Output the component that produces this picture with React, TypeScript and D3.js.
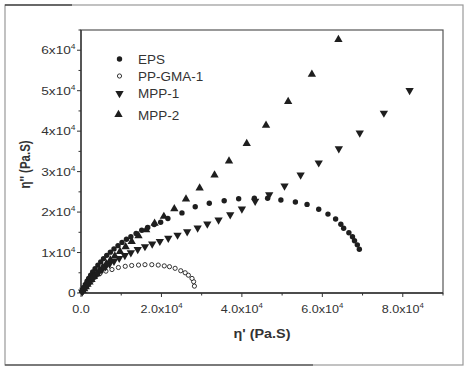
import React from "react";
import * as d3 from "d3";

// (Pa.S)
const epsX = [69200, 68700, 68000, 67500, 66600, 65300, 64600, 63300, 61400, 59100, 56200, 53300, 49700, 46400, 43100, 39200, 35600, 31900, 28400, 25100, 21600, 19800, 18200, 16600, 15100, 13700, 12400, 11300, 10200, 9200, 8200, 7300, 6400, 5600, 4900, 4200, 3500, 2900, 2400, 1900, 1500, 1100, 700, 400];
const epsY = [10800, 11900, 12900, 13900, 14900, 16000, 17000, 18300, 19500, 20700, 21900, 22500, 23000, 23400, 23400, 23300, 22800, 22200, 21300, 19800, 18400, 17500, 16900, 16200, 15500, 14700, 13900, 13300, 12500, 11700, 10900, 10100, 9300, 8500, 7700, 6900, 6000, 5200, 4400, 3600, 2900, 2100, 1400, 700];

const ppgmaX = [28200, 28000, 27600, 26700, 25900, 24800, 23400, 22000, 20700, 19200, 17600, 15900, 14300, 12600, 11000, 9300, 7700, 6200, 4700, 3500, 2400, 1600, 800, 300];
const ppgmaY = [1700, 2800, 3600, 4400, 5000, 5500, 6100, 6500, 6700, 6900, 7000, 7000, 6900, 6800, 6600, 6300, 5800, 5400, 4800, 4000, 3200, 2400, 1400, 600];

const mpp1X = [81700, 75300, 69300, 64100, 59100, 54600, 50600, 46800, 43300, 40000, 37100, 34200, 31400, 29000, 26400, 24000, 21700, 19600, 17700, 15900, 14100, 12400, 10900, 9500, 8200, 7100, 6100, 5200, 4400, 3700, 3000, 2400, 1900, 1400, 1000, 600, 300];
const mpp1Y = [50200, 44600, 39700, 35800, 32300, 29300, 26600, 24400, 22800, 20900, 19500, 18200, 17200, 16200, 15300, 14450, 13650, 12900, 12250, 11600, 10900, 10100, 9400, 8700, 8000, 7300, 6600, 5900, 5200, 4500, 3800, 3100, 2500, 1900, 1300, 800, 400];

const mpp2X = [64000, 57400, 51500, 46000, 41200, 36800, 33200, 29500, 26100, 23200, 20600, 18300, 16200, 14300, 12600, 11100, 9700, 8400, 7300, 6300, 5400, 4600, 3900, 3200, 2600, 2100, 1600, 1200, 800, 400];
const mpp2Y = [62500, 53900, 47200, 41300, 36800, 32500, 29000, 25800, 23100, 20700, 18800, 17100, 15500, 14000, 12600, 11300, 10100, 9000, 8000, 7100, 6200, 5400, 4600, 3900, 3200, 2600, 2000, 1400, 900, 450];

const legendNames = ["EPS", "PP-GMA-1", "MPP-1", "MPP-2"];
const xTicks = [0, 20000, 40000, 60000, 80000];
const xTickLabels = ["0.0", "2.0x10", "4.0x10", "6.0x10", "8.0x10"];
const yTicks = [0, 10000, 20000, 30000, 40000, 50000, 60000];
const yTickLabels = ["0", "1x10", "2x10", "3x10", "4x10", "5x10", "6x10"];

const W = 467;
const H = 369;
const m = { left: 81, right: 443, top: 30, bottom: 293 };
const font = "'Liberation Sans', Arial, sans-serif";
const ink = "#1e1e1e";
const txt = "#333";

const x = d3.scaleLinear().domain([0, 90000]).range([m.left, m.right]);
const y = d3.scaleLinear().domain([0, 65000]).range([m.bottom, m.top]);

const zip = (xs: number[], ys: number[]) => xs.map((v, i) => [v, ys[i]]);

const tri = d3.symbol().type(d3.symbolTriangle).size(30);

function Marker({ kind, cx, cy }: { kind: number; cx: number; cy: number }) {
  if (kind === 0) return <circle cx={cx} cy={cy} r={2.7} fill={ink} />;
  if (kind === 1)
    return <circle cx={cx} cy={cy} r={2.1} fill="white" stroke={ink} strokeWidth={0.9} />;
  if (kind === 2)
    return <path d={tri()!} transform={`translate(${cx},${cy + 0.5}) rotate(180)`} fill={ink} />;
  return <path d={tri()!} transform={`translate(${cx},${cy - 0.5})`} fill={ink} />;
}

// the picture is slightly stretched sideways, so is its text
function Label({ tx, ty, sx, anchor, size, bold, children }: any) {
  return (
    <text
      transform={`translate(${tx},${ty}) scale(${sx},1)`}
      textAnchor={anchor}
      fontSize={size}
      fontWeight={bold ? "bold" : "normal"}
      fill={txt}
    >
      {children}
    </text>
  );
}

export default function App() {
  const series = [zip(epsX, epsY), zip(ppgmaX, ppgmaY), zip(mpp1X, mpp1Y), zip(mpp2X, mpp2Y)];
  const legendY = [59, 76, 93, 115];
  const minorX = d3.range(10000, 90001, 20000);
  const minorY = d3.range(5000, 65001, 10000);

  return (
    <svg width={W} height={H} style={{ position: "absolute", left: 0, top: 0, background: "white" }} fontFamily={font}>
      {/* outer frame */}
      <rect x={5} y={5} width={458} height={360} fill="none" stroke="#999" strokeWidth={1.2} />
      <line x1={5} x2={72} y1={5} y2={5} stroke="#111" strokeWidth={1.2} />
      <line x1={5} x2={313} y1={365} y2={365} stroke="#333" strokeWidth={1.2} />

      {/* plot box */}
      <rect x={m.left} y={m.top} width={m.right - m.left} height={m.bottom - m.top} fill="none" stroke="#555" strokeWidth={1.2} />
      <line x1={m.left} x2={m.left} y1={m.top} y2={m.bottom} stroke="#333" strokeWidth={1.3} />
      <line x1={m.left} x2={m.right} y1={m.bottom} y2={m.bottom} stroke="#333" strokeWidth={1.3} />

      {/* x ticks */}
      {xTicks.map((t, i) => (
        <g key={"xt" + i}>
          <line x1={x(t)} x2={x(t)} y1={m.bottom} y2={m.bottom + 4} stroke="#333" />
          <Label tx={x(t)} ty={313} sx={1.2} anchor="middle" size={10.5}>
            {xTickLabels[i]}
            {i > 0 && <tspan dy={-5} fontSize={6.5}>4</tspan>}
          </Label>
        </g>
      ))}
      {minorX.map((t) => (
        <line key={"xm" + t} x1={x(t)} x2={x(t)} y1={m.bottom} y2={m.bottom + 2.5} stroke="#333" />
      ))}

      {/* y ticks */}
      {yTicks.map((t, i) => (
        <g key={"yt" + i}>
          <line x1={m.left - 4} x2={m.left} y1={y(t)} y2={y(t)} stroke="#333" />
          <Label tx={75.5} ty={y(t) + 4} sx={1.3} anchor="end" size={10.5}>
            {yTickLabels[i]}
            {i > 0 && <tspan dy={-5} fontSize={6.5}>4</tspan>}
          </Label>
        </g>
      ))}
      {minorY.map((t) => (
        <line key={"ym" + t} x1={m.left - 2.5} x2={m.left} y1={y(t)} y2={y(t)} stroke="#333" />
      ))}

      {/* axis titles */}
      <Label tx={(m.left + m.right) / 2} ty={338} sx={1.15} anchor="middle" size={12.5} bold>
        η' (Pa.S)
      </Label>
      <text
        transform={`translate(29.5,${(m.top + m.bottom) / 2 + 3}) rotate(-90) scale(1,1.2)`}
        textAnchor="middle"
        fontSize={11.5}
        fontWeight="bold"
        fill={txt}
      >
        η'' (Pa.S)
      </text>

      {/* data */}
      {series.map((pts, k) => (
        <g key={"s" + k}>
          {pts.map((p, j) => (
            <Marker key={j} kind={k} cx={x(p[0])} cy={y(p[1])} />
          ))}
        </g>
      ))}

      {/* legend */}
      {legendNames.map((name, i) => (
        <g key={name}>
          <Marker kind={i} cx={i === 3 ? 118.5 : 119.5} cy={legendY[i]} />
          <Label tx={138} ty={legendY[i] + 4.5} sx={1.08} anchor="start" size={12.5}>
            {name}
          </Label>
        </g>
      ))}
    </svg>
  );
}
